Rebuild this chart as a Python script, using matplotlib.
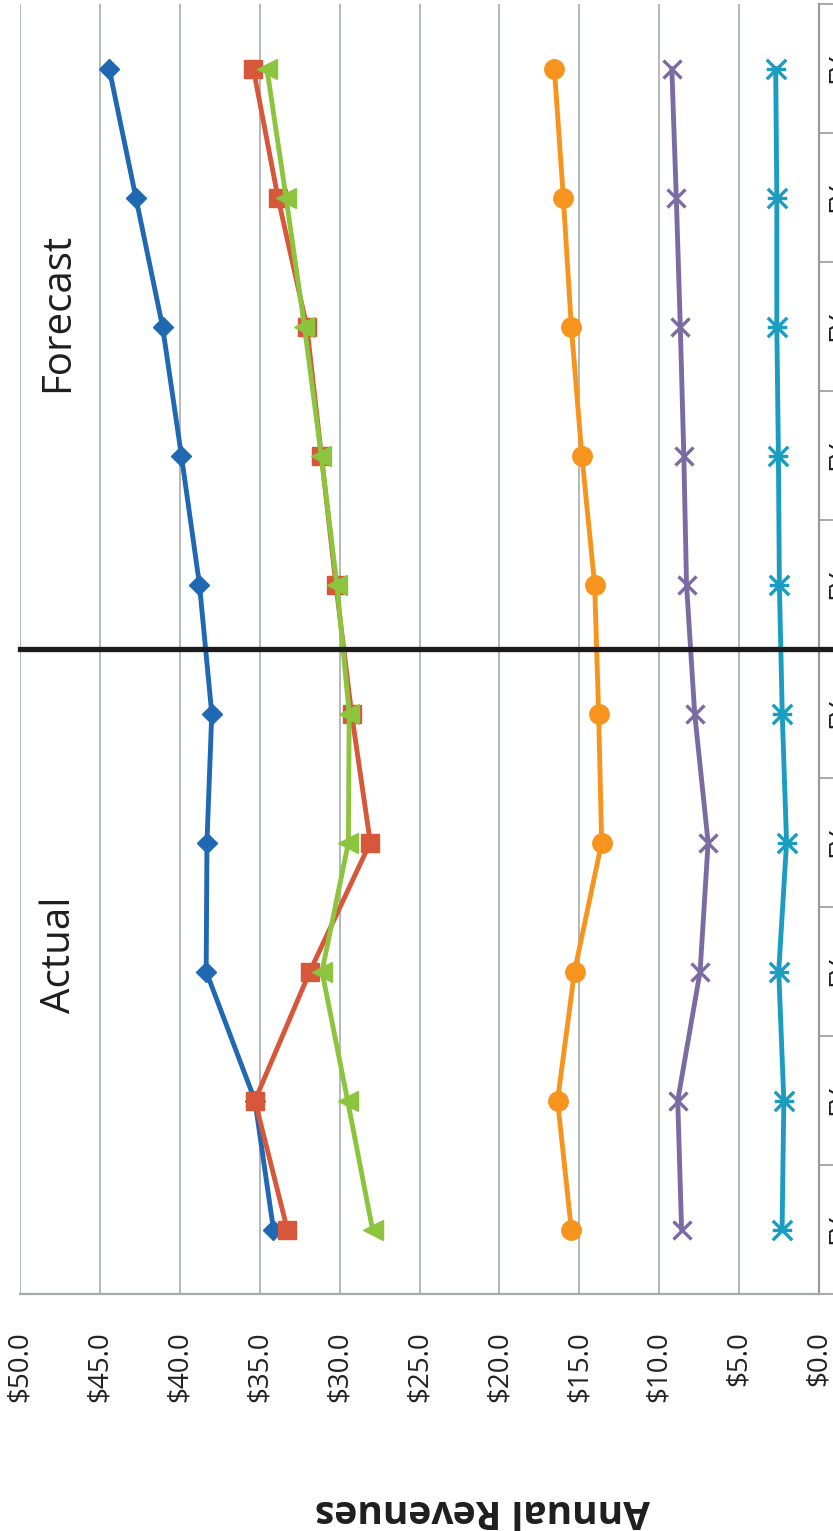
import matplotlib
matplotlib.use("Agg")
import matplotlib.pyplot as plt
from matplotlib.path import Path
import numpy as np

# ---------------- data ----------------
categories = ["FY"] * 10          # category labels (only "FY" is visible in the reference)
blue_vals   = [34.14, 35.3, 38.35, 38.3, 38.0, 38.77, 39.9, 41.08, 42.75, 44.42]
red_vals    = [33.27, 35.3, 31.86, 28.08, 29.25, 30.23, 31.14, 32.05, 33.86, 35.4]
green_vals  = [27.94, 29.5, 31.1, 29.45, 29.4, 30.17, 31.15, 32.2, 33.35, 34.55]
orange_vals = [15.5, 16.36, 15.3, 13.6, 13.79, 14.04, 14.84, 15.5, 16.0, 16.56]
purple_vals = [8.6, 8.84, 7.44, 6.94, 7.78, 8.29, 8.46, 8.68, 8.93, 9.21]
teal_vals   = [2.31, 2.2, 2.52, 2.03, 2.3, 2.48, 2.54, 2.64, 2.64, 2.71]
value_ticks = [0, 5, 10, 15, 20, 25, 30, 35, 40, 45, 50]
n_actual = 5

plt.rcParams['font.family'] = ['Open Sans', 'DejaVu Sans']

W, H = 833, 1531
fig = plt.figure(figsize=(W / 100, H / 100), dpi=100)
fig.patch.set_facecolor('white')

left_px, right_px, top_px, bottom_px = 20, 819, 4, 1294
ax = fig.add_axes([left_px / W, (H - bottom_px) / H,
                   (right_px - left_px) / W, (bottom_px - top_px) / H])

pos = np.arange(len(categories))

# asterisk marker (x with a bar), rotated like the chart
star_path = Path([(-1, -1), (1, 1), (-1, 1), (1, -1), (-1, 0), (1, 0)],
                 [Path.MOVETO, Path.LINETO, Path.MOVETO, Path.LINETO,
                  Path.MOVETO, Path.LINETO])

series = [
    (blue_vals,   '#2068B2', 'D', 10, 1.0),
    (red_vals,    '#D6573A', 's', 13, 1.0),
    (green_vals,  '#8DC43E', '<', 14, 1.0),
    (orange_vals, '#F7941E', 'o', 14, 1.0),
    (purple_vals, '#7B6BA3', 'x', 13, 2.4),
    (teal_vals,   '#1A9DC0', star_path, 14, 2.4),
]
for vals, col, mk, ms, mew in series:
    ax.plot(vals, pos, color=col, lw=3.5, marker=mk, ms=ms,
            mfc=col, mec=col, mew=mew, solid_capstyle='round', zorder=3)

ax.set_xlim(50, 0)
ax.set_ylim(-0.5, len(categories) - 0.5)

# value axis (bottom)
ax.set_xticks(value_ticks)
ax.set_xticklabels([f"${v:.1f}" for v in value_ticks], rotation=90,
                   fontsize=20, color='#222222')
ax.tick_params(axis='x', length=0, pad=27)
ax.grid(axis='x', color='#A5ABAD', lw=1.2, zorder=0)

# category axis (right)
ax.yaxis.tick_right()
ax.set_yticks(pos)
ax.set_yticklabels(categories, rotation=90, va='center', fontsize=20, color='#222222')
ax.set_yticks(np.arange(-0.5, len(categories), 1.0), minor=True)
ax.tick_params(axis='y', which='major', length=0, pad=5)
ax.tick_params(axis='y', which='minor', length=14, width=1.2, color='#9A9A9A',
               direction='out')

for s in ['top', 'left']:
    ax.spines[s].set_visible(False)
ax.spines['right'].set_color('#9A9A9A')
ax.spines['right'].set_linewidth(1.6)
ax.spines['bottom'].set_color('#A5ABAD')
ax.spines['bottom'].set_linewidth(1.6)

# Actual / Forecast divider
ax.plot([0, 1.05], [n_actual - 0.5, n_actual - 0.5], transform=ax.get_yaxis_transform(),
        color='#1B1B1B', lw=3.8, clip_on=False, zorder=4)

def ftext(xp, yp, s, **kw):
    fig.text(xp / W, 1 - yp / H, s, ha='center', va='center', **kw)

ftext(58, 312, "Forecast", rotation=90, fontsize=29, color='#1E1E1E')
ftext(60, 955, "Actual", rotation=90, fontsize=29, color='#1E1E1E')
ftext(482, 1510, "Annual Revenues", rotation=180, fontsize=28,
      fontweight='bold', color='#1E1E1E')

fig.savefig("out.png", dpi=100, facecolor='white')
